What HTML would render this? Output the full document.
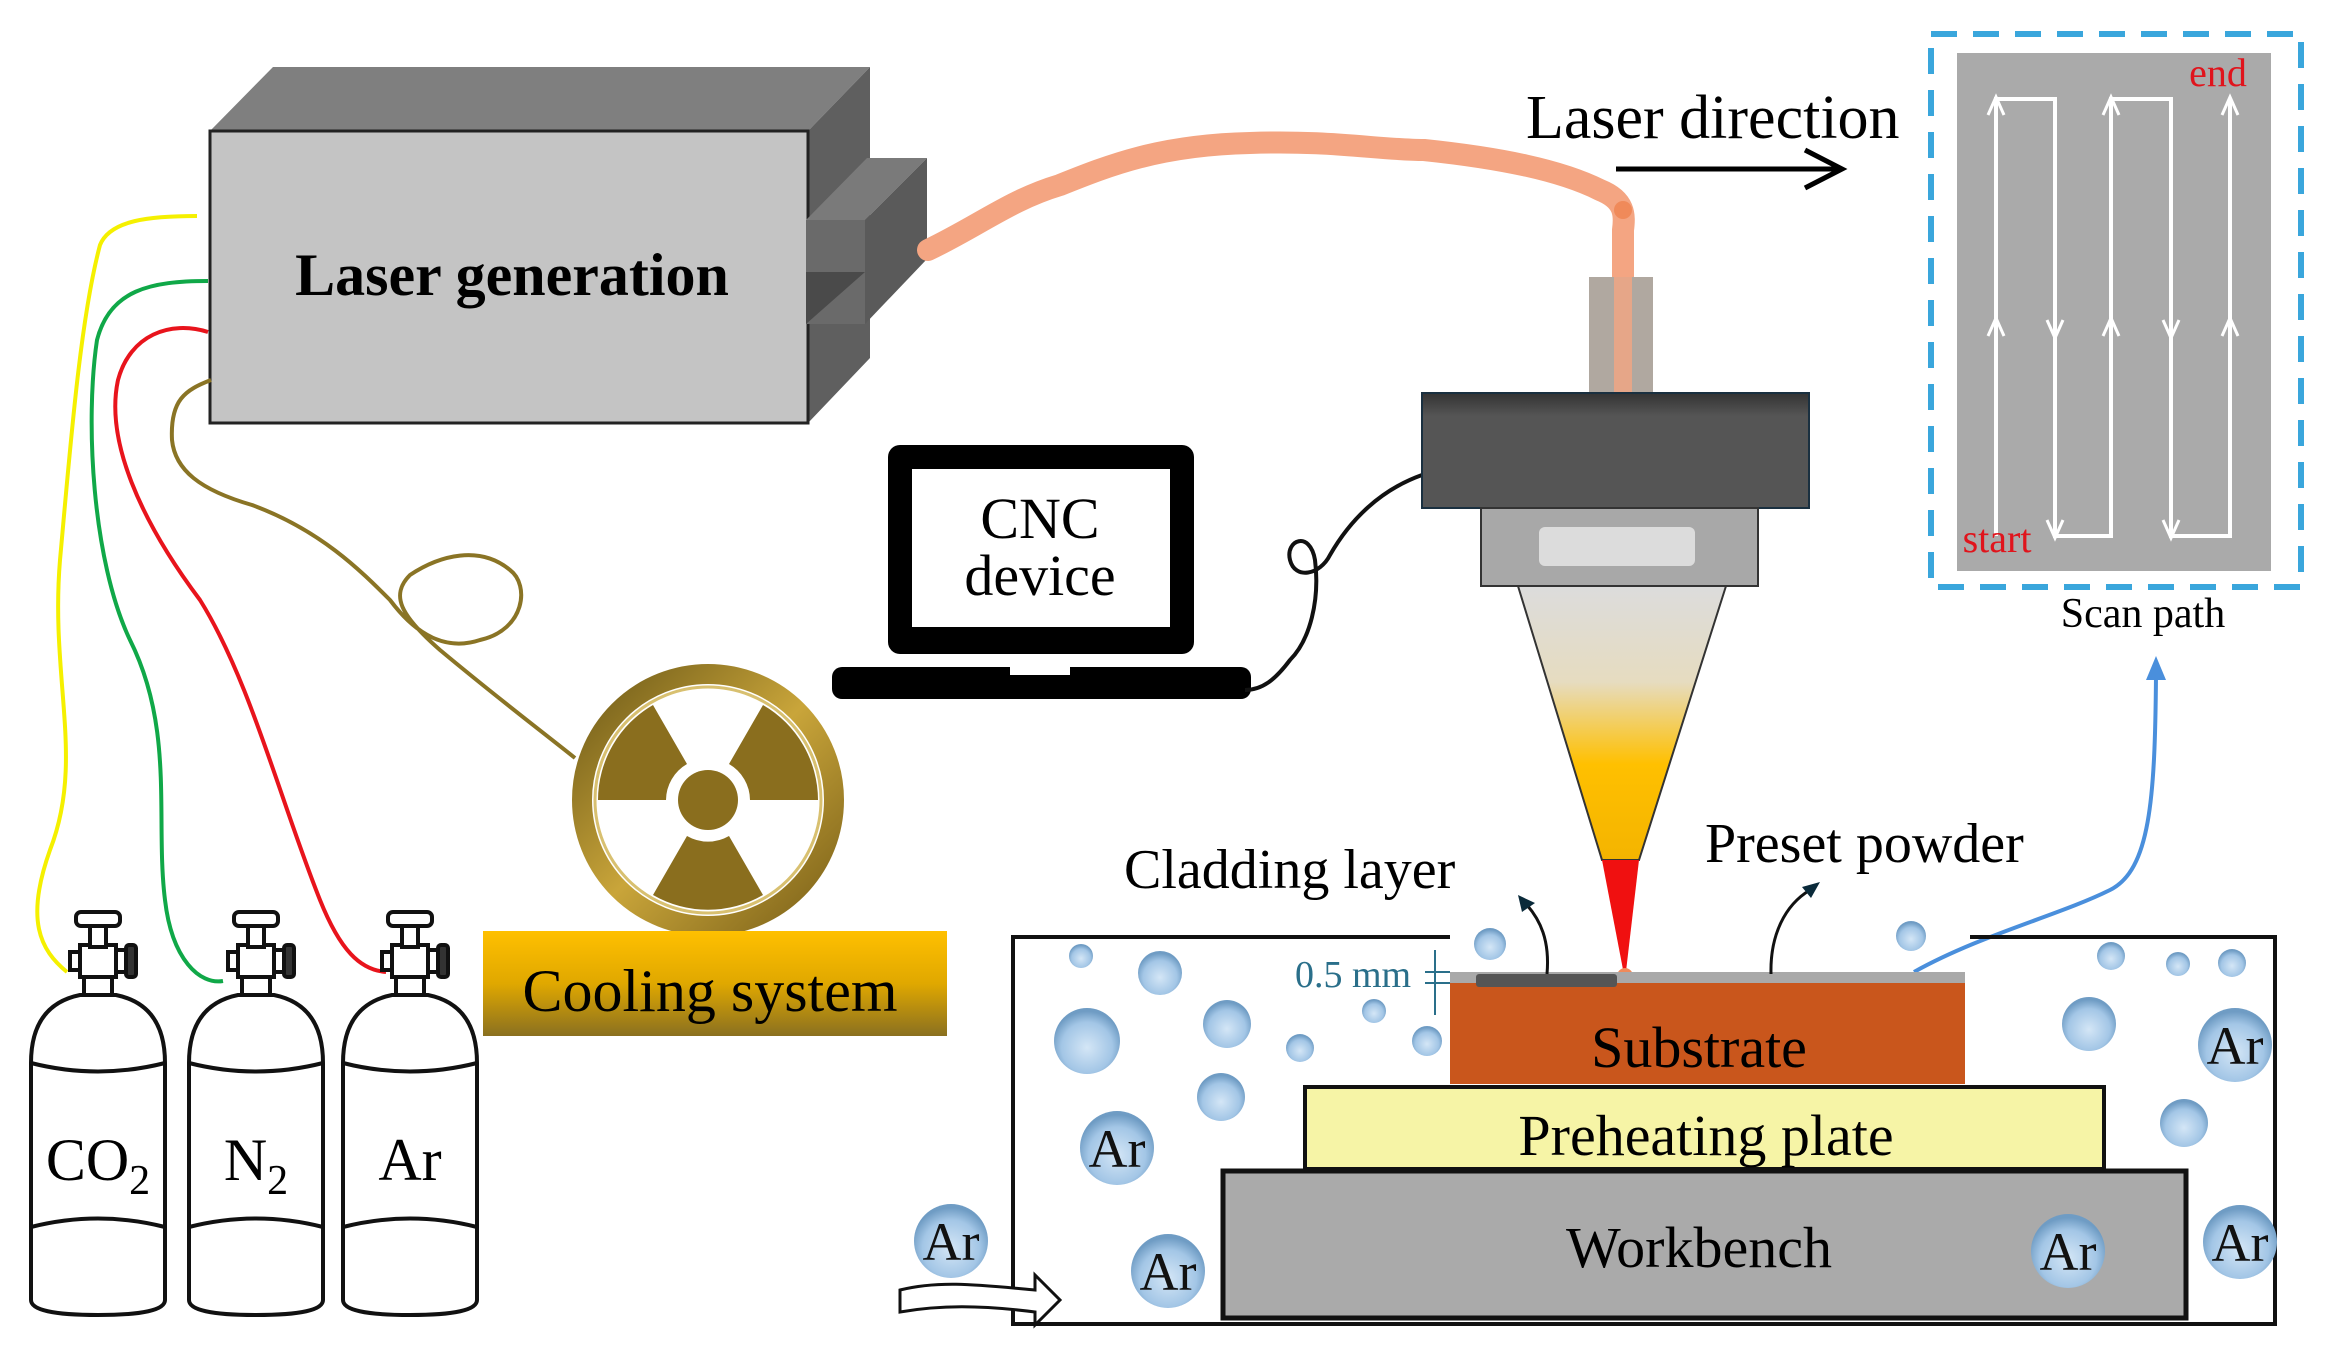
<!DOCTYPE html>
<html><head><meta charset="utf-8"><style>
html,body{margin:0;padding:0;background:#fff;}
svg{display:block;}
text{font-family:"Liberation Serif",serif;}
</style></head><body>
<svg width="2329" height="1357" viewBox="0 0 2329 1357" xmlns="http://www.w3.org/2000/svg">
<defs>
<radialGradient id="bub" cx="50%" cy="60%" r="55%">
<stop offset="0" stop-color="#d4e6f6"/><stop offset="0.7" stop-color="#a3c6e6"/><stop offset="1" stop-color="#6f9cc4"/>
</radialGradient>
<linearGradient id="cone" x1="0" y1="0" x2="0" y2="1">
<stop offset="0" stop-color="#dcdcdc"/><stop offset="0.35" stop-color="#e6dcc0"/><stop offset="0.65" stop-color="#ffc000"/><stop offset="1" stop-color="#f4b400"/>
</linearGradient>
<linearGradient id="cool" x1="0" y1="0" x2="0" y2="1">
<stop offset="0" stop-color="#ffc000"/><stop offset="0.5" stop-color="#e0a800"/><stop offset="1" stop-color="#8a7020"/>
</linearGradient>
<linearGradient id="gold" x1="0" y1="0" x2="1" y2="1">
<stop offset="0" stop-color="#6e5a18"/><stop offset="0.5" stop-color="#c9a53a"/><stop offset="1" stop-color="#7a6018"/>
</linearGradient>
<linearGradient id="head" x1="0" y1="0" x2="0" y2="1">
<stop offset="0" stop-color="#333"/><stop offset="0.2" stop-color="#555"/><stop offset="1" stop-color="#555"/>
</linearGradient>
</defs>

<polygon points="210,131 273,67 870,67 808,131" fill="#7f7f7f"/>
<polygon points="808,131 870,67 870,358 808,423" fill="#5f5f5f"/>
<rect x="210" y="131" width="598" height="292" fill="#c4c4c4" stroke="#222" stroke-width="3"/>
<polygon points="806,220 867,158 927,158 865,220" fill="#7a7a7a"/>
<polygon points="865,220 927,158 927,259 865,324" fill="#5a5a5a"/>
<rect x="806" y="220" width="59" height="104" fill="#6a6a6a"/>
<polygon points="806,272 865,272 806,324" fill="#4a4a4a"/>
<text x="512" y="295" font-size="60" font-weight="bold" text-anchor="middle">Laser generation</text>

<path d="M928,250 C980,225 1010,200 1060,185 C1110,165 1160,145 1250,143 C1330,140 1380,150 1424,150 C1500,158 1560,170 1600,190 C1625,200 1625,215 1623,230 L1623,393" fill="none" stroke="#f4a582" stroke-width="22" stroke-linecap="round"/>
<circle cx="1623" cy="210" r="9" fill="#f08a5a"/>

<path d="M197,216 C150,216 110,220 100,245 C80,320 70,450 60,560 C50,680 85,760 50,850 C25,920 40,950 67,972" fill="none" stroke="#f5f000" stroke-width="4"/>
<path d="M208,281 C150,281 110,290 97,340 C85,420 92,560 130,640 C175,730 155,820 165,900 C172,960 200,985 223,981" fill="none" stroke="#10a848" stroke-width="4"/>
<path d="M208,332 C170,320 130,335 118,380 C105,440 140,520 200,600 C250,680 280,800 320,900 C340,950 360,970 386,972" fill="none" stroke="#e8141c" stroke-width="4"/>
<path d="M211,380 C185,390 170,400 172,440 C175,470 200,490 252,505 C320,530 360,570 390,600 C420,640 450,650 480,640 C525,630 530,585 510,570 C480,545 440,555 410,575 C390,595 400,615 440,650 C500,700 540,730 575,758" fill="none" stroke="#8a7425" stroke-width="4"/>

<rect x="888" y="445" width="306" height="209" rx="12" fill="#000"/>
<rect x="912" y="469" width="258" height="158" fill="#fff"/>
<rect x="832" y="667" width="419" height="32" rx="10" fill="#000"/>
<rect x="1010" y="667" width="60" height="8" fill="#fff"/>
<text x="1040" y="538" font-size="58" text-anchor="middle">CNC</text>
<text x="1040" y="595" font-size="58" text-anchor="middle">device</text>
<path d="M1422,475 C1380,490 1350,520 1330,555 C1320,575 1295,580 1290,560 C1285,540 1310,530 1315,560 C1320,600 1310,640 1290,660 C1275,680 1262,690 1245,690" fill="none" stroke="#111" stroke-width="4"/>

<circle cx="708" cy="800" r="126" fill="#fff" stroke="url(#gold)" stroke-width="20"/>
<circle cx="708" cy="800" r="113" fill="none" stroke="#d8c070" stroke-width="3"/>
<g transform="translate(3,4)" fill="#8a6e1e">
<path d="M726,832 L760,891 A110,110 0 0 1 650,891 L684,832 A42,42 0 0 0 726,832 Z"/>
<path d="M726,760 L760,701 A110,110 0 0 1 815,796 L747,796 A42,42 0 0 0 726,760 Z"/>
<path d="M663,796 L595,796 A110,110 0 0 1 650,701 L684,760 A42,42 0 0 0 663,796 Z"/>
<circle cx="705" cy="796" r="30"/>
</g>

<rect x="483" y="931" width="464" height="105" fill="url(#cool)"/>
<text x="710" y="1011" font-size="60" text-anchor="middle">Cooling system</text>

<g fill="#fff" stroke="#111" stroke-width="4">
<g id="tank">
<path d="M31,1300 L31,1063 Q31,1005 80,995 L116,995 Q165,1005 165,1063 L165,1300 Q165,1315 98,1315 Q31,1315 31,1300 Z"/>
<path d="M31,1063 Q98,1080 165,1063" fill="none"/>
<path d="M31,1227 Q98,1210 165,1227" fill="none"/>
<rect x="84" y="975" width="28" height="20"/>
<rect x="80" y="945" width="36" height="32" fill="#fff"/>
<rect x="90" y="925" width="16" height="22"/>
<rect x="76" y="912" width="44" height="14" rx="5"/>
<rect x="116" y="950" width="10" height="22"/>
<rect x="126" y="945" width="10" height="32" rx="3" fill="#333"/>
<rect x="70" y="952" width="10" height="18"/>
</g>
<use href="#tank" x="158"/>
<use href="#tank" x="312"/>
</g>
<text x="98" y="1180" font-size="60" text-anchor="middle">CO<tspan font-size="42" dy="14">2</tspan></text>
<text x="256" y="1180" font-size="60" text-anchor="middle">N<tspan font-size="42" dy="14">2</tspan></text>
<text x="410" y="1180" font-size="60" text-anchor="middle">Ar</text>

<rect x="1589" y="277" width="64" height="116" fill="#b0a8a0"/>
<rect x="1614" y="277" width="18" height="116" fill="#f4a582" opacity="0.8"/>
<rect x="1422" y="393" width="387" height="115" fill="url(#head)" stroke="#1a3040" stroke-width="2"/>
<rect x="1481" y="508" width="277" height="78" fill="#a8a8a8" stroke="#333" stroke-width="2"/>
<rect x="1539" y="527" width="156" height="39" fill="#dcdcdc" rx="6"/>
<polygon points="1518,586 1726,586 1639,860 1602,860" fill="url(#cone)" stroke="#333" stroke-width="2"/>
<polygon points="1602,860 1639,860 1625,980" fill="#f01010"/>
<circle cx="1625" cy="976" r="8" fill="#f08a5a"/>

<text x="1526" y="138" font-size="62">Laser direction</text>
<line x1="1616" y1="169" x2="1838" y2="169" stroke="#000" stroke-width="5"/>
<path d="M1805,150 L1842,169 L1805,188" fill="none" stroke="#000" stroke-width="5"/>

<rect x="1931" y="34" width="370" height="553" fill="none" stroke="#3aa6dc" stroke-width="6" stroke-dasharray="26,16"/>
<rect x="1957" y="53" width="314" height="518" fill="#aaaaaa"/>
<polyline points="1996,536 1996,99 2055,99 2055,536 2111,536 2111,99 2171,99 2171,536 2230,536 2230,99" fill="none" stroke="#fff" stroke-width="4"/>
<g fill="none" stroke="#fff" stroke-width="3">
<path d="M1988,115 L1996,97 L2004,115"/><path d="M1988,336 L1996,318 L2004,336"/>
<path d="M2103,115 L2111,97 L2119,115"/><path d="M2103,336 L2111,318 L2119,336"/>
<path d="M2222,115 L2230,97 L2238,115"/><path d="M2222,336 L2230,318 L2238,336"/>
<path d="M2047,320 L2055,338 L2063,320"/><path d="M2047,520 L2055,538 L2063,520"/>
<path d="M2163,320 L2171,338 L2179,320"/><path d="M2163,520 L2171,538 L2179,520"/>
</g>
<text x="2218" y="86" font-size="40" fill="#e0141c" text-anchor="middle">end</text>
<text x="1997" y="552" font-size="40" fill="#e0141c" text-anchor="middle">start</text>
<text x="2143" y="627" font-size="42" text-anchor="middle">Scan path</text>
<path d="M1914,972 C1980,935 2060,915 2110,890 C2150,870 2155,800 2156,675" fill="none" stroke="#4a8fdc" stroke-width="4"/>
<polygon points="2146,680 2156,656 2166,680" fill="#4a8fdc"/>

<polyline points="1450,937 1013,937 1013,1324 2275,1324 2275,937 1970,937" fill="none" stroke="#111" stroke-width="4"/>
<rect x="1223" y="1171" width="963" height="147" fill="#aaaaaa" stroke="#111" stroke-width="5"/>
<rect x="1305" y="1087" width="799" height="82" fill="#f6f4a6" stroke="#111" stroke-width="4"/>
<rect x="1450" y="983" width="515" height="101" fill="#c9561c"/>
<rect x="1450" y="972" width="515" height="11" fill="#a9a9a9"/>
<rect x="1476" y="974" width="141" height="13" rx="3" fill="#555"/>
<text x="1699" y="1067" font-size="58" text-anchor="middle">Substrate</text>
<text x="1706" y="1155" font-size="58" text-anchor="middle">Preheating plate</text>
<text x="1699" y="1267" font-size="58" text-anchor="middle">Workbench</text>
<text x="1295" y="987" font-size="38" fill="#2a6f8a">0.5 mm</text>
<g stroke="#2a6f8a" stroke-width="2" fill="#2a6f8a">
<line x1="1435" y1="950" x2="1435" y2="1015"/>
<line x1="1425" y1="972" x2="1450" y2="972"/><line x1="1425" y1="983" x2="1450" y2="983"/>
</g>
<text x="1124" y="888" font-size="56">Cladding layer</text>
<text x="1705" y="862" font-size="56">Preset powder</text>
<path d="M1547,974 C1550,940 1540,920 1527,905" fill="none" stroke="#111" stroke-width="3"/>
<polygon points="1518,895 1535,903 1522,912" fill="#0a2a3a"/>
<path d="M1771,974 C1770,935 1785,905 1810,890" fill="none" stroke="#111" stroke-width="3"/>
<polygon points="1820,882 1811,898 1802,887" fill="#0a2a3a"/>

<g fill="url(#bub)">
<circle cx="1081" cy="956" r="12"/><circle cx="1160" cy="973" r="22"/><circle cx="1087" cy="1041" r="33"/>
<circle cx="1227" cy="1024" r="24"/><circle cx="1300" cy="1048" r="14"/><circle cx="1221" cy="1097" r="24"/>
<circle cx="1374" cy="1011" r="12"/><circle cx="1427" cy="1041" r="15"/><circle cx="1490" cy="944" r="16"/>
<circle cx="1911" cy="936" r="15"/><circle cx="2111" cy="956" r="14"/><circle cx="2178" cy="964" r="12"/>
<circle cx="2232" cy="963" r="14"/><circle cx="2089" cy="1024" r="27"/><circle cx="2184" cy="1123" r="24"/>
<circle cx="1117" cy="1148" r="37"/><circle cx="951" cy="1241" r="37"/><circle cx="1168" cy="1271" r="37"/>
<circle cx="2235" cy="1045" r="37"/><circle cx="2068" cy="1251" r="37"/><circle cx="2240" cy="1242" r="37"/>
</g>
<g font-size="54" text-anchor="middle" fill="#111">
<text x="1117" y="1167" font-family="Liberation Sans, sans-serif">Ar</text>
<text x="951" y="1260" font-family="Liberation Sans, sans-serif">Ar</text>
<text x="1168" y="1290" font-family="Liberation Sans, sans-serif">Ar</text>
<text x="2235" y="1064" font-family="Liberation Sans, sans-serif">Ar</text>
<text x="2068" y="1270" font-family="Liberation Sans, sans-serif">Ar</text>
<text x="2240" y="1261" font-family="Liberation Sans, sans-serif">Ar</text>
</g>

<path d="M900,1290 C940,1280 980,1285 1035,1290 L1035,1275 L1060,1300 L1035,1325 L1035,1312 C980,1305 940,1305 900,1312 Z" fill="#fff" stroke="#111" stroke-width="3"/>
</svg>
</body></html>
